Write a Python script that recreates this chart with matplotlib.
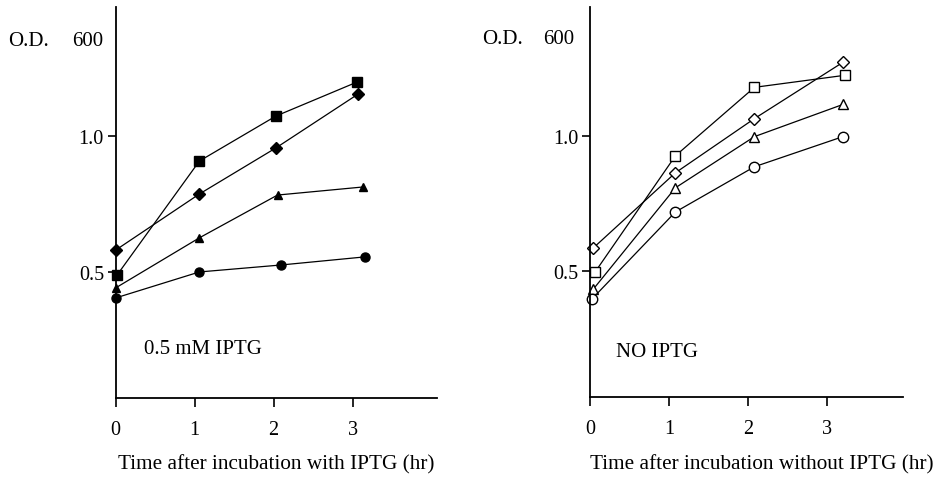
import matplotlib
matplotlib.use("Agg")
import matplotlib.pyplot as plt
from matplotlib.ticker import FixedLocator, NullLocator, FixedFormatter

plt.rcParams['font.family'] = ['Liberation Serif', 'DejaVu Serif']
plt.rcParams['font.size'] = 14

# ---- data: left panel (0.5 mM IPTG), filled markers ----
left_sq_x = [0.02, 1.06, 2.03, 3.06]
left_sq_y = [0.493, 0.880, 1.107, 1.317]
left_di_x = [0.0, 1.06, 2.03, 3.07]
left_di_y = [0.559, 0.744, 0.941, 1.238]
left_tr_x = [0.0, 1.06, 2.05, 3.13]
left_tr_y = [0.461, 0.595, 0.740, 0.771]
left_ci_x = [0.0, 1.06, 2.09, 3.16]
left_ci_y = [0.438, 0.500, 0.518, 0.540]

# ---- data: right panel (no IPTG), open markers ----
right_di_x = [0.04, 1.08, 2.08, 3.20]
right_di_y = [0.563, 0.827, 1.091, 1.455]
right_sq_x = [0.06, 1.08, 2.08, 3.22]
right_sq_y = [0.497, 0.902, 1.280, 1.361]
right_tr_x = [0.04, 1.08, 2.08, 3.20]
right_tr_y = [0.456, 0.766, 0.995, 1.173]
right_ci_x = [0.03, 1.08, 2.08, 3.20]
right_ci_y = [0.435, 0.677, 0.853, 0.995]

x_ticks = [0, 1, 2, 3]
x_tick_labels = ["0", "1", "2", "3"]
y_ticks = [0.5, 1.0]
y_tick_labels = ["0.5", "1.0"]

fig = plt.figure(figsize=(9.4, 4.81), dpi=100)
axL = fig.add_axes([0.1231, 0.1705, 0.3418, 0.8129])
axR = fig.add_axes([0.6277, 0.1726, 0.3330, 0.8108])

lw = 0.9
def style(ax, xmax):
    ax.set_yscale('log')
    ax.set_xlim(0, xmax)
    ax.set_ylim(0.263, 1.93)
    for s in ['top', 'right']:
        ax.spines[s].set_visible(False)
    for s in ['left', 'bottom']:
        ax.spines[s].set_linewidth(1.3)
    ax.xaxis.set_major_locator(FixedLocator(x_ticks))
    ax.xaxis.set_major_formatter(FixedFormatter(x_tick_labels))
    ax.yaxis.set_major_locator(FixedLocator(y_ticks))
    ax.yaxis.set_major_formatter(FixedFormatter(y_tick_labels))
    ax.yaxis.set_minor_locator(NullLocator())
    ax.tick_params(axis='x', length=6.5, width=1.2, labelsize=14.5, pad=9.5)
    ax.tick_params(axis='y', length=5.5, width=1.2, labelsize=14.5, pad=3)
    ax.patch.set_alpha(0)

style(axL, 4.07)
style(axR, 3.96)

k = dict(color='black', lw=lw, clip_on=False)
axL.plot(left_sq_x, left_sq_y, marker='s', ms=6.5, mfc='black', **k)
axL.plot(left_di_x, left_di_y, marker='D', ms=6.3, mfc='black', **k)
axL.plot(left_tr_x, left_tr_y, marker='^', ms=6.0, mfc='black', **k)
axL.plot(left_ci_x, left_ci_y, marker='o', ms=6.5, mfc='black', **k)

axR.plot(right_di_x, right_di_y, marker='D', ms=6.3, mfc='white', mew=1.0, **k)
axR.plot(right_sq_x, right_sq_y, marker='s', ms=7.0, mfc='white', mew=1.0, **k)
axR.plot(right_tr_x, right_tr_y, marker='^', ms=7.0, mfc='white', mew=1.0, **k)
axR.plot(right_ci_x, right_ci_y, marker='o', ms=7.5, mfc='white', mew=1.0, **k)

# texts
fs = 15
fig.text(8/940, 1-42/481, "O.D.", ha='left', va='center', fontsize=fs)
fig.text(72/940, 1-42/481, "600", ha='left', va='center', fontsize=fs)
fig.text(482/940, 1-40/481, "O.D.", ha='left', va='center', fontsize=fs)
fig.text(543/940, 1-40/481, "600", ha='left', va='center', fontsize=fs)

fig.text(144/940, 1-350/481, "0.5 mM IPTG", ha='left', va='center', fontsize=fs)
fig.text(616/940, 1-353/481, "NO IPTG", ha='left', va='center', fontsize=fs)

fig.text(276/940, 1-465/481, "Time after incubation with IPTG (hr)", ha='center', va='center', fontsize=15.3)
fig.text(762/940, 1-465/481, "Time after incubation without IPTG (hr)", ha='center', va='center', fontsize=15.3)

fig.savefig("out.png", dpi=100)
